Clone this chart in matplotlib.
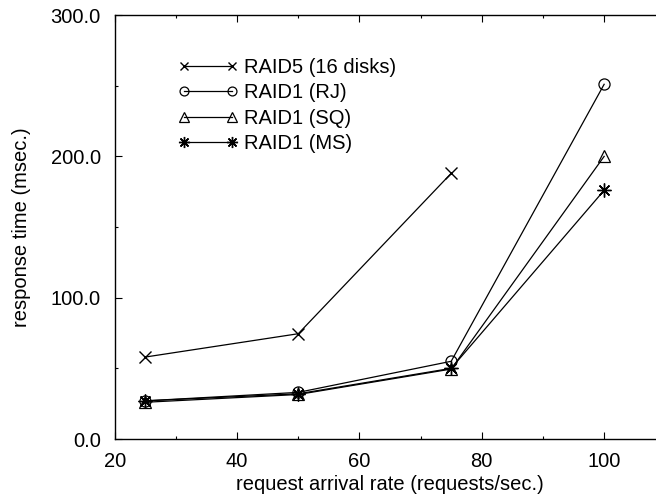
import matplotlib
matplotlib.use("Agg")
import matplotlib.pyplot as plt
from matplotlib.ticker import MultipleLocator, FormatStrFormatter

plt.rcParams['font.family'] = ['Liberation Sans', 'DejaVu Sans']

x = [25, 50, 75, 100]
raid5_x = [25, 50, 75]
raid5 = [58, 74.5, 188]
raid1_rj = [27, 33, 55, 251]
raid1_sq = [26, 31.5, 49.5, 200]
raid1_ms = [27, 32, 50, 176]

labels = ["RAID5 (16 disks)", "RAID1 (RJ)", "RAID1 (SQ)", "RAID1 (MS)"]

fig = plt.figure(figsize=(6.56, 4.96), dpi=100)
ax = fig.add_axes([0.1749, 0.1149, 0.8393, 0.8548])

lw = 0.9
ax.plot(raid5_x, raid5, color='black', lw=lw, marker='x', ms=8, mew=1.0, label=labels[0])
ax.plot(x, raid1_rj, color='black', lw=lw, marker='o', ms=8, mfc='none', mew=0.9, label=labels[1])
ax.plot(x, raid1_sq, color='black', lw=lw, marker='^', ms=9, mfc='none', mew=0.9, label=labels[2])
ax.plot(x, raid1_ms, color='black', lw=lw, marker=(8, 2, 0), ms=10, mew=1.0, label=labels[3])

ax.set_xlim(20, 110)
ax.set_ylim(0, 300)
ax.xaxis.set_major_locator(MultipleLocator(20))
ax.xaxis.set_minor_locator(MultipleLocator(10))
ax.yaxis.set_major_locator(MultipleLocator(100))
ax.yaxis.set_minor_locator(MultipleLocator(50))
ax.yaxis.set_major_formatter(FormatStrFormatter('%.1f'))
ax.tick_params(which='both', direction='in', top=True, right=False, labelsize=14.5, color='black')
ax.tick_params(which='major', length=5, width=0.8, pad=9)
ax.tick_params(which='minor', length=2.5, width=0.8)
ax.tick_params(axis='y', which='major', pad=10)
ax.spines['right'].set_visible(False)
for s in ['left', 'bottom', 'top']:
    ax.spines[s].set_linewidth(1.0)

ax.set_xlabel("request arrival rate (requests/sec.)", fontsize=14.5, labelpad=3)
ax.set_ylabel("response time (msec.)", fontsize=14.5)
ax.yaxis.set_label_coords(-0.152, 0.5)

leg = ax.legend(loc='upper left', bbox_to_anchor=(0.115, 0.899), frameon=False,
                numpoints=2, handlelength=3.0, handletextpad=0.25, labelspacing=0.32,
                fontsize=14.5, borderpad=0, borderaxespad=0, markerscale=0.8)

fig.savefig("out.png", dpi=100)
